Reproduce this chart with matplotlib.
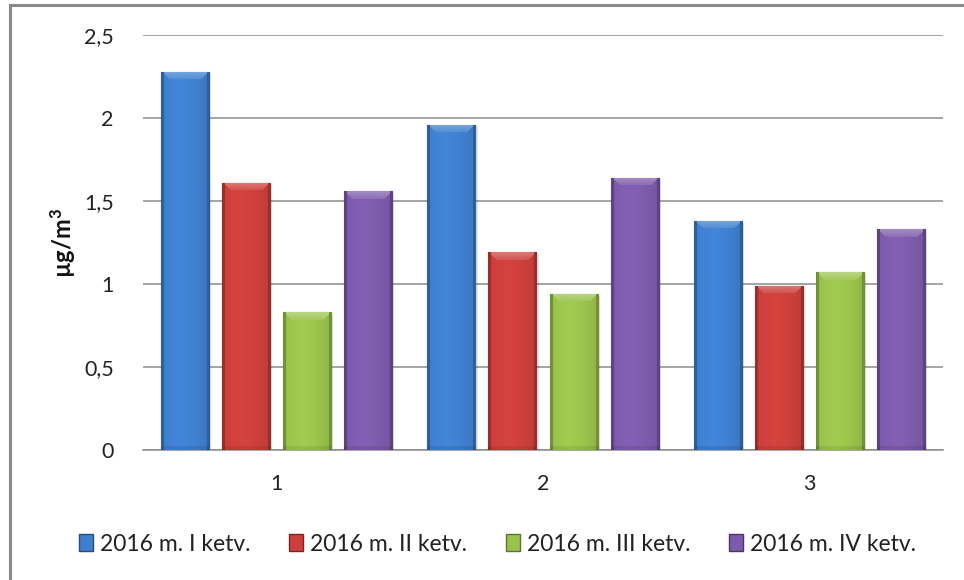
import numpy as np
import matplotlib
matplotlib.use("Agg")
import matplotlib.pyplot as plt
from matplotlib.colors import to_rgb
from matplotlib.lines import Line2D
from matplotlib.patches import Patch

# data
categories = ["1", "2", "3"]
series = ["2016 m. I ketv.", "2016 m. II ketv.", "2016 m. III ketv.", "2016 m. IV ketv."]
q1 = [2.28, 1.96, 1.38]
q2 = [1.61, 1.19, 0.99]
q3 = [0.83, 0.94, 1.07]
q4 = [1.56, 1.64, 1.33]
colors = ["#3f7fcf", "#cc3f3b", "#99c24c", "#7d5bab"]

plt.rcParams["font.family"] = ["Lato", "DejaVu Sans"]
plt.rcParams["mathtext.fontset"] = "custom"
plt.rcParams["mathtext.rm"] = "Lato"
plt.rcParams["mathtext.bf"] = "Lato:bold"

fig = plt.figure(figsize=(9.64, 5.80), dpi=100)
ax = fig.add_axes([0.1483, 0.2241, 0.83, 0.7155])

x = np.arange(len(categories))
width = 0.18
step = 0.229
values = [q1, q2, q3, q4]


def shade(c, f):
    r = np.array(to_rgb(c))
    if f < 1:
        return r * f
    return r + (1 - r) * (f - 1)


def bar_image(c, hpx, wpx):
    # horizontal gradient with a bevel on the sides and top, like the excel bars
    hpx = max(int(hpx), 2)
    cols = np.linspace(0, 1, wpx)
    prof = 1.05 - 0.25 * np.abs(cols - 0.4) ** 1.5
    img = np.zeros((hpx, wpx, 3))
    base = np.array(to_rgb(c))
    for j in range(wpx):
        img[:, j] = np.clip(base * prof[j], 0, 1)
    bev = 8
    for i in range(min(bev, hpx)):
        for j in range(wpx):
            if i < j < wpx - 1 - i:
                img[i, j] = np.clip(shade(c, 1.3 - 0.025 * i), 0, 1)
    for j in range(wpx):
        if j < 3 or j > wpx - 4:
            img[:, j] = np.clip(base * 0.75, 0, 1)
    img[-4:, :] = np.clip(img[-4:, :] * 0.92, 0, 1)
    return img


for k, (vals, c, name) in enumerate(zip(values, colors, series)):
    pos = x - 1.5 * step + k * step
    bars = ax.bar(pos, vals, width, color=c, edgecolor=shade(c, 0.6), linewidth=0.8,
                  label=name, zorder=3)
    for b, v in zip(bars, vals):
        # soft shadow to the right
        ax.bar(b.get_x() + b.get_width() / 2 + 0.008, v, width, bottom=-0.01,
               color="#000000", alpha=0.12, linewidth=0, zorder=2)
        img = bar_image(c, v * 166, 48)
        im = ax.imshow(img, extent=(b.get_x(), b.get_x() + b.get_width(), 0, v),
                       aspect="auto", zorder=3.5, interpolation="bilinear")
        im.set_clip_path(b)

ax.set_xlim(-0.5, 2.5)
ax.set_ylim(0, 2.5)
ax.set_yticks([0, 0.5, 1, 1.5, 2, 2.5])
ax.set_yticklabels(["0", "0,5", "1", "1,5", "2", "2,5"])
ax.set_xticks(x)
ax.set_xticklabels(categories)
ax.tick_params(axis="both", length=0, labelsize=15.5, colors="#222222")
ax.tick_params(axis="y", pad=21)
ax.tick_params(axis="x", pad=17)
ax.yaxis.grid(True, color="#8c8c8c", linewidth=1.1, zorder=0)
ax.set_axisbelow(True)
for s in ["top", "right", "left"]:
    ax.spines[s].set_visible(False)
ax.spines["bottom"].set_color("#8c8c8c")
ax.spines["bottom"].set_linewidth(1.1)

fig.text(0.066, 0.581, r"µg/m$\mathbf{^{3}}$", rotation=90, fontsize=17, fontweight="bold",
         ha="center", va="center", color="#111111")

handles = [Patch(facecolor=c, edgecolor=shade(c, 0.6), label=s) for c, s in zip(colors, series)]
fig.legend(handles=handles, loc="center", bbox_to_anchor=(0.516, 0.062), ncol=4,
           frameon=False, fontsize=16.5, handlelength=0.6, handleheight=0.7,
           handletextpad=0.3, columnspacing=1.7, labelcolor="#222222")

# outer chart frame (only top and left visible in the crop)
fig.add_artist(Line2D([0.0104, 0.0104], [0, 0.991], color="#8a8a8a", lw=2.2))
fig.add_artist(Line2D([0.0104, 1.0], [0.991, 0.991], color="#8a8a8a", lw=2.2))

fig.savefig("out.png", dpi=100)
